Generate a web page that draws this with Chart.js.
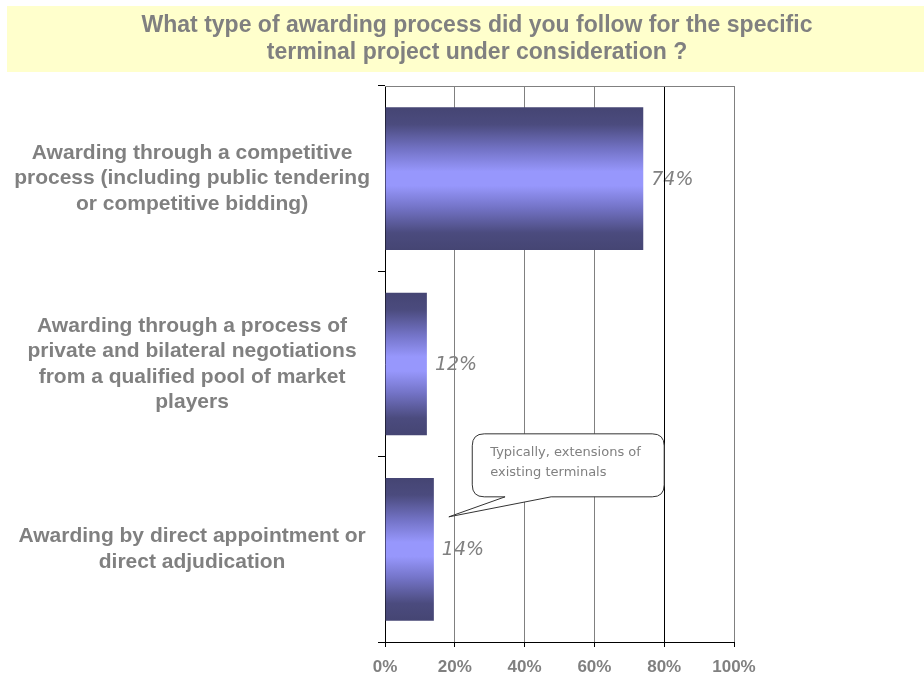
<!DOCTYPE html>
<html lang="en">
<head>
<meta charset="UTF-8" />
<title>Awarding process</title>
<script src="https://cdn.jsdelivr.net/npm/chart.js"></script>
<style>
  html, body { margin: 0; padding: 0; background: #fff; }
  canvas { display: block; }
</style>
</head>
<body>
<canvas id="awardChart" width="924" height="681"></canvas>
<script>
  // survey question + answers
  const titleLines = [
    'What type of awarding process did you follow for the specific',
    'terminal project under consideration ?'
  ];
  const categories = [
    ['Awarding through a competitive', 'process (including public tendering', 'or competitive bidding)'],
    ['Awarding through a process of', 'private and bilateral negotiations', 'from a qualified pool of market', 'players'],
    ['Awarding by direct appointment or', 'direct adjudication']
  ];
  const shares = [74, 12, 14];
  const xTicks = [0, 20, 40, 60, 80, 100];
  const noteLines = ['Typically, extensions of', 'existing terminals'];

  const GREY = '#808080';
  const BAR_PCT = 0.77;

  // vertical "cylinder" shading for each bar
  function barFill(ctx) {
    const chart = ctx.chart;
    const yScale = chart.scales.y;
    if (!chart.chartArea || !yScale || ctx.dataIndex === undefined) return '#9999ff';
    const mid = yScale.getPixelForValue(ctx.dataIndex);
    const half = (chart.chartArea.height / categories.length) * BAR_PCT / 2;
    const g = chart.ctx.createLinearGradient(0, mid - half, 0, mid + half);
    g.addColorStop(0, '#454573');
    g.addColorStop(0.12, '#4b4b7e');
    g.addColorStop(0.3, '#7474c8');
    g.addColorStop(0.45, '#9797fc');
    g.addColorStop(0.55, '#9797fc');
    g.addColorStop(0.7, '#7474c8');
    g.addColorStop(0.88, '#4b4b7e');
    g.addColorStop(1, '#454573');
    return g;
  }

  const decorations = {
    id: 'decorations',
    beforeDraw(chart) {
      const c = chart.ctx;
      c.save();
      // title band
      c.fillStyle = '#ffffcc';
      c.fillRect(7, 6, 917, 66);
      c.fillStyle = GREY;
      c.font = 'bold 23px "Liberation Sans", Arial, sans-serif';
      c.textAlign = 'center';
      c.textBaseline = 'middle';
      c.fillText(titleLines[0], 477, 26);
      c.fillText(titleLines[1], 477, 53);

      // percentages next to the bars (grid lines go over them)
      const meta = chart.getDatasetMeta(0);
      c.font = 'italic 19px "DejaVu Sans", sans-serif';
      c.textAlign = 'left';
      meta.data.forEach((bar, i) => {
        c.fillText(shares[i] + '%', bar.x + 8, bar.y + 1);
      });
      c.restore();
    },
    afterDraw(chart) {
      const c = chart.ctx;
      const area = chart.chartArea;
      const x = chart.scales.x;
      const y = chart.scales.y;
      c.save();

      // top frame line
      c.strokeStyle = GREY;
      c.lineWidth = 1;
      c.beginPath();
      c.moveTo(area.left, area.top + 0.5);
      c.lineTo(area.right, area.top + 0.5);
      c.stroke();

      // speech bubble pointing at the last bar
      const anchor = y.getPixelForValue(2);
      const left = x.getPixelForValue(25);
      const right = x.getPixelForValue(80);
      const top = anchor - 115.5;
      const bottom = anchor - 52.5;
      const baseL = x.getPixelForValue(34.4);
      const baseR = x.getPixelForValue(47.6);
      const tipX = x.getPixelForValue(18.3);
      const tipY = anchor - 32.5;
      const r = 12;

      c.beginPath();
      c.moveTo(left + r, top);
      c.lineTo(right - r, top);
      c.quadraticCurveTo(right, top, right, top + r);
      c.lineTo(right, bottom - r);
      c.quadraticCurveTo(right, bottom, right - r, bottom);
      c.lineTo(baseR, bottom);
      c.lineTo(tipX, tipY);
      c.lineTo(baseL, bottom);
      c.lineTo(left + r, bottom);
      c.quadraticCurveTo(left, bottom, left, bottom - r);
      c.lineTo(left, top + r);
      c.quadraticCurveTo(left, top, left + r, top);
      c.closePath();
      c.fillStyle = '#ffffff';
      c.fill();
      c.strokeStyle = '#333333';
      c.stroke();

      c.fillStyle = GREY;
      c.font = '13px "DejaVu Sans", sans-serif';
      c.textAlign = 'left';
      c.textBaseline = 'middle';
      c.fillText(noteLines[0], left + 18, top + 19);
      c.fillText(noteLines[1], left + 18, top + 39);
      c.restore();
    }
  };

  new Chart(document.getElementById('awardChart'), {
    type: 'bar',
    data: {
      labels: categories,
      datasets: [{
        data: shares,
        backgroundColor: barFill,
        borderWidth: 0,
        barPercentage: BAR_PCT,
        categoryPercentage: 1
      }]
    },
    options: {
      indexAxis: 'y',
      responsive: false,
      animation: false,
      layout: { padding: { top: 86, right: 190, bottom: 0, left: 0 } },
      plugins: {
        legend: { display: false },
        tooltip: { enabled: false }
      },
      scales: {
        x: {
          min: 0,
          max: 100,
          afterBuildTicks(axis) {
            axis.ticks = xTicks.map(v => ({ value: v }));
          },
          afterFit(axis) {
            axis.height = 39;
          },
          border: { color: '#000', width: 1 },
          grid: {
            color: c => (c.index === 4 ? '#000' : GREY),
            lineWidth: 1,
            tickLength: 5,
            tickColor: '#000'
          },
          ticks: {
            color: GREY,
            padding: 10,
            font: { family: '"Liberation Sans", Arial, sans-serif', size: 17, weight: 'bold' },
            callback: v => v + '%'
          }
        },
        y: {
          afterFit(axis) {
            axis.width = 385;
            axis.paddingTop = 0;
            axis.paddingBottom = 0;
          },
          border: { color: '#000', width: 1 },
          grid: {
            drawOnChartArea: false,
            offset: true,
            tickLength: 7,
            tickColor: '#000'
          },
          ticks: {
            color: GREY,
            crossAlign: 'center',
            padding: 8,
            font: { family: '"Liberation Sans", Arial, sans-serif', size: 21, weight: 'bold', lineHeight: 1.21 }
          }
        }
      }
    },
    plugins: [decorations]
  });
</script>
</body>
</html>
